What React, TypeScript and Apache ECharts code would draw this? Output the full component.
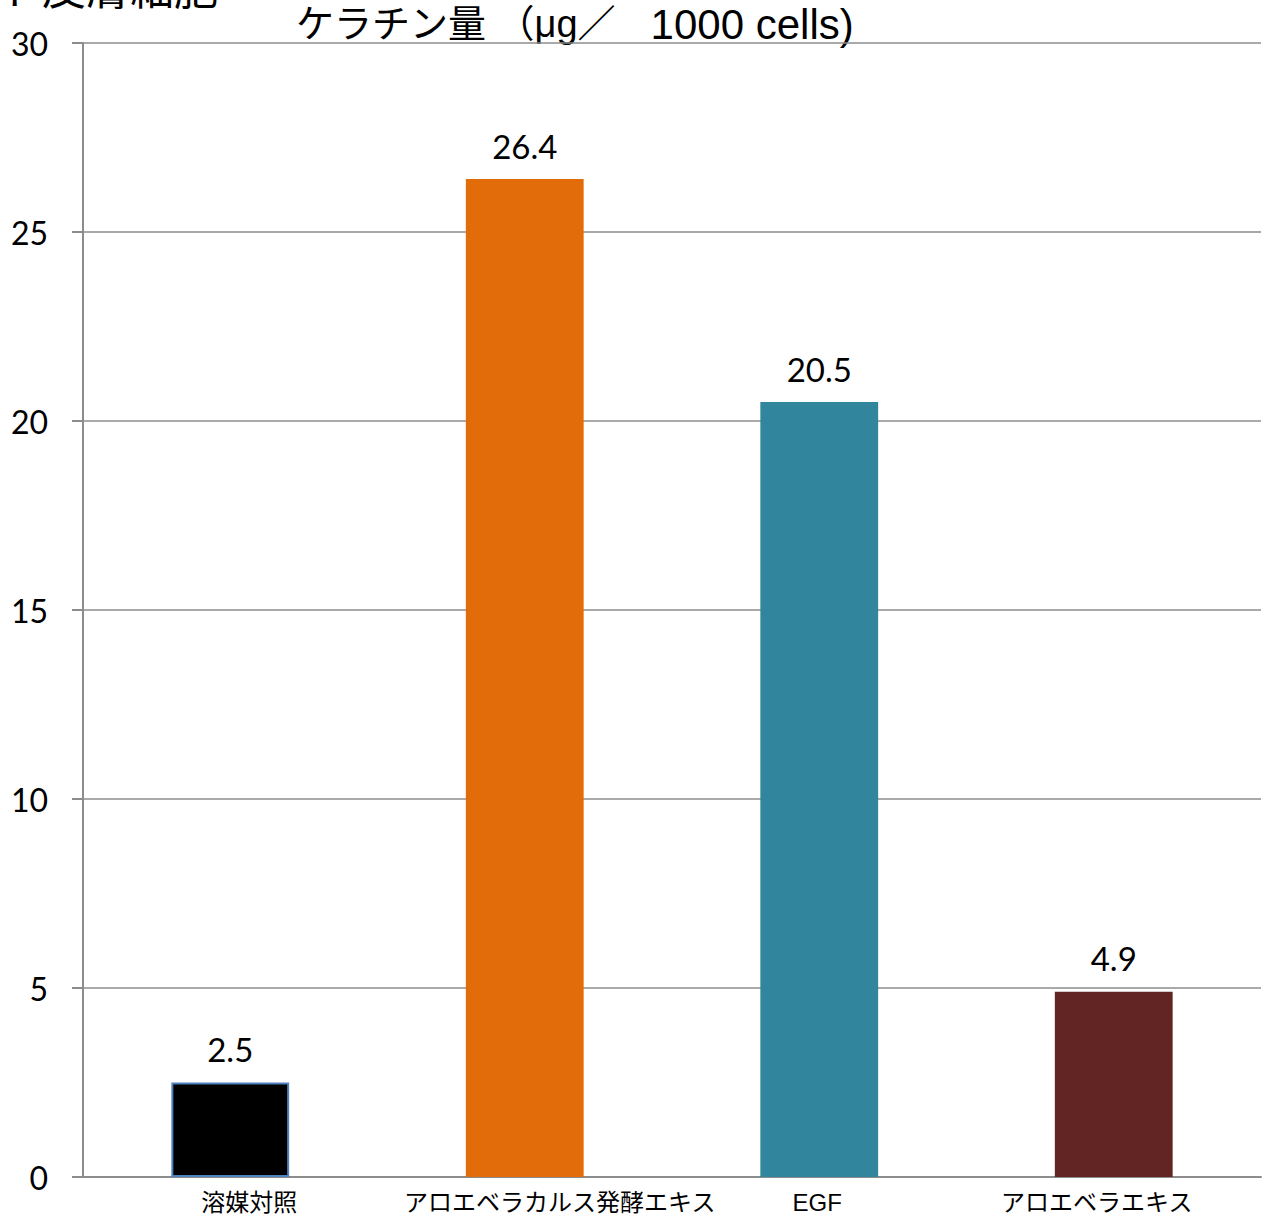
import React, { useEffect, useRef } from "react";
import * as echarts from "echarts";

const categories = ["溶媒対照", "アロエベラカルス発酵エキス", "EGF", "アロエベラエキス"];
const values = [2.5, 26.4, 20.5, 4.9];
const barColors = ["#000000", "#E36C0A", "#31859C", "#632523"];
const labelPads = [[0, 0, 0, 38], [0, 0, 0, 70], [0, 4, 0, 0], [0, 34, 0, 0]];
const yTicks = { min: 0, max: 30, interval: 5 };
const titleJp = "ケラチン量 （μg／";
const titleLatin = "   1000 cells)";
const cornerText = "ヒト皮膚細胞";

const JP = '"Liberation Sans", "Noto Sans CJK JP", sans-serif';
const NUM = 'Lato, "Open Sans", sans-serif';

export default function App() {
  const ref = useRef<HTMLDivElement>(null);
  useEffect(() => {
    if (!ref.current) return;
    const chart = echarts.init(ref.current, null, { renderer: "svg" });
    chart.setOption({
      animation: false,
      backgroundColor: "#ffffff",
      grid: { left: 83, right: 9, top: 43, bottom: 39, containLabel: false },
      graphic: [
        {
          type: "text",
          left: 296,
          top: 3,
          style: {
            text: `{a|${titleJp}}{b|${titleLatin}}`,
            fill: "#000",
            rich: {
              a: { fontSize: 38, fontFamily: JP, color: "#000" },
              b: { fontSize: 42, fontFamily: '"Liberation Sans", Arial, sans-serif', color: "#000" },
            },
          },
        },
        {
          type: "text",
          left: -46,
          top: -33,
          style: { text: cornerText, font: `44px ${JP}`, fill: "#000" },
        },
      ],
      xAxis: {
        type: "category",
        data: categories.map((c, i) => ({
          value: c,
          textStyle: { padding: labelPads[i] },
        })),
        axisLine: { lineStyle: { color: "#8c8c8c", width: 2 } },
        axisTick: { show: false },
        axisLabel: {
          interval: 0,
          margin: 13,
          fontSize: 24,
          color: "#000",
          fontFamily: JP,
        },
      },
      yAxis: {
        type: "value",
        min: yTicks.min,
        max: yTicks.max,
        interval: yTicks.interval,
        axisLine: { show: true, lineStyle: { color: "#8c8c8c", width: 2 } },
        axisTick: { show: true, length: 11, lineStyle: { color: "#8c8c8c", width: 2 } },
        splitLine: { show: true, lineStyle: { color: "#8c8c8c", width: 1.5 } },
        axisLabel: { fontSize: 32, color: "#000", fontFamily: NUM, margin: 35 },
      },
      series: [
        {
          type: "bar",
          barWidth: "40%",
          data: values.map((v, i) => ({
            value: v,
            itemStyle: {
              color: barColors[i],
              borderColor: i === 0 ? "#4F81BD" : barColors[i],
              borderWidth: i === 0 ? 2 : 0,
            },
          })),
          label: {
            show: true,
            position: "top",
            distance: 17,
            fontSize: 33,
            color: "#000",
            fontFamily: NUM,
            formatter: (p: any) => p.value.toFixed(1),
          },
        },
      ],
    });
    return () => chart.dispose();
  }, []);
  return (
    <div
      ref={ref}
      style={{ position: "absolute", left: 0, top: 0, width: 1270, height: 1216 }}
    />
  );
}
